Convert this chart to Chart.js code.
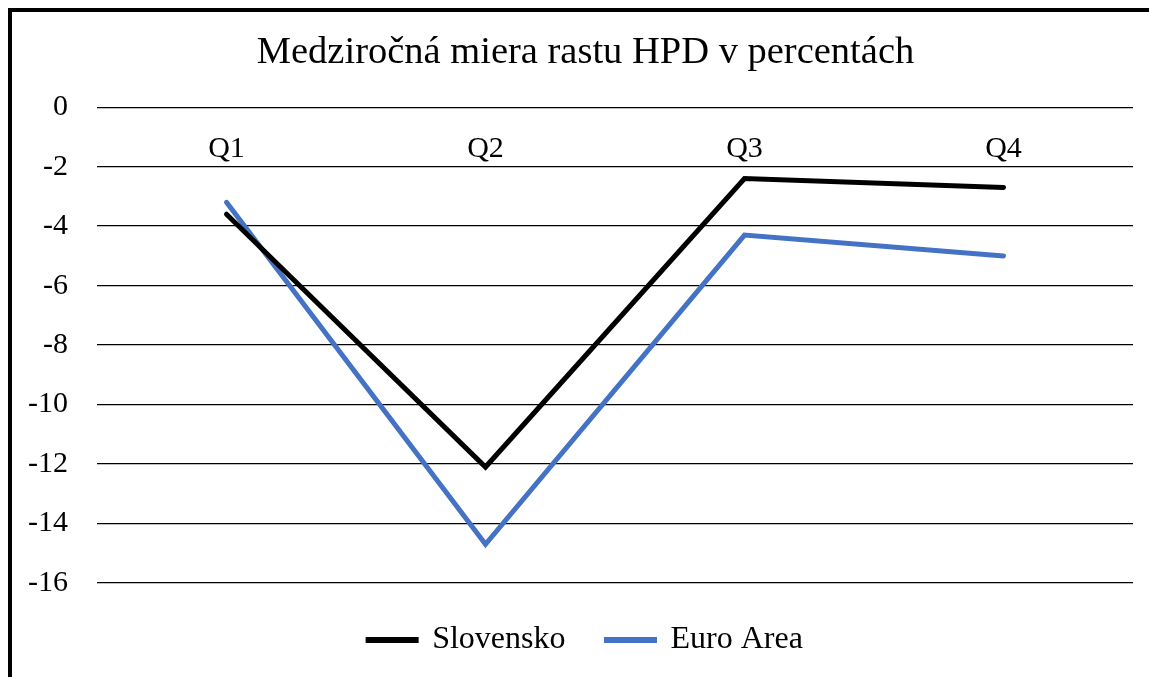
<!DOCTYPE html>
<html>
<head>
<meta charset="utf-8">
<script src="https://cdn.jsdelivr.net/npm/chart.js@4/dist/chart.umd.min.js"></script>
<style>
  html, body { margin: 0; padding: 0; overflow: hidden; background: #fff; }
  #frame { position: absolute; left: 8px; top: 8px; width: 1300px; height: 800px; border: 4px solid #000; box-sizing: border-box; }
  #wrap { position: absolute; left: 0; top: 0; width: 1149px; height: 671px; }
</style>
</head>
<body>
<div id="frame"></div>
<div id="wrap"><canvas id="chart" width="1149" height="671"></canvas></div>
<script>
const categories = ['Q1', 'Q2', 'Q3', 'Q4'];
const slovensko = [-3.6, -12.1, -2.4, -2.7];
const euroArea = [-3.2, -14.7, -4.3, -5.0];
const yTicks = [0, -2, -4, -6, -8, -10, -12, -14, -16];

const serif = '"Liberation Serif", "Times New Roman", serif';

// y labels stick out past the narrow axis box, so don't clip them to it
const noLabelClip = {
  id: 'noLabelClip',
  afterLayout(chart) {
    chart.scales.y._computeLabelArea = () => undefined;
  },
};

new Chart(document.getElementById('chart'), {
  type: 'line',
  data: {
    labels: categories,
    datasets: [
      {
        label: 'Slovensko',
        data: slovensko,
        borderColor: '#000000',
        backgroundColor: '#000000',
        borderWidth: 5,
        pointRadius: 0,
        tension: 0,
        borderCapStyle: 'round',
      },
      {
        label: 'Euro Area',
        data: euroArea,
        borderColor: '#4472C4',
        backgroundColor: '#4472C4',
        borderWidth: 5,
        pointRadius: 0,
        tension: 0,
        borderCapStyle: 'round',
      },
    ],
  },
  plugins: [noLabelClip],
  options: {
    responsive: false,
    animation: false,
    // left padding shifts the centred title and legend to where they sit in the original
    layout: { padding: { left: 38, right: 16, top: 0, bottom: 5 } },
    plugins: {
      title: {
        display: true,
        text: 'Medziročná miera rastu HPD v percentách',
        color: '#000',
        font: { family: serif, size: 38.5, weight: 'normal' },
        padding: { top: 30, bottom: 31 },
      },
      legend: {
        position: 'bottom',
        labels: {
          color: '#000',
          font: { family: serif, size: 32 },
          boxWidth: 48,
          boxHeight: 1,
          padding: 41,
        },
      },
      tooltip: { enabled: false },
    },
    scales: {
      x: {
        position: { y: 0 },
        offset: true,
        grid: { display: false },
        border: { display: false },
        ticks: {
          color: '#000',
          font: { family: serif, size: 30 },
          padding: 16,
        },
      },
      y: {
        min: -16,
        max: 0,
        afterFit: s => { s.width = 59; },
        afterBuildTicks: s => { s.ticks = yTicks.map(v => ({ value: v })); },
        grid: { color: '#000', lineWidth: 1.3, drawTicks: false },
        border: { display: false },
        ticks: {
          color: '#000',
          font: { family: serif, size: 30 },
          padding: 29,
        },
      },
    },
  },
});
</script>
</body>
</html>
